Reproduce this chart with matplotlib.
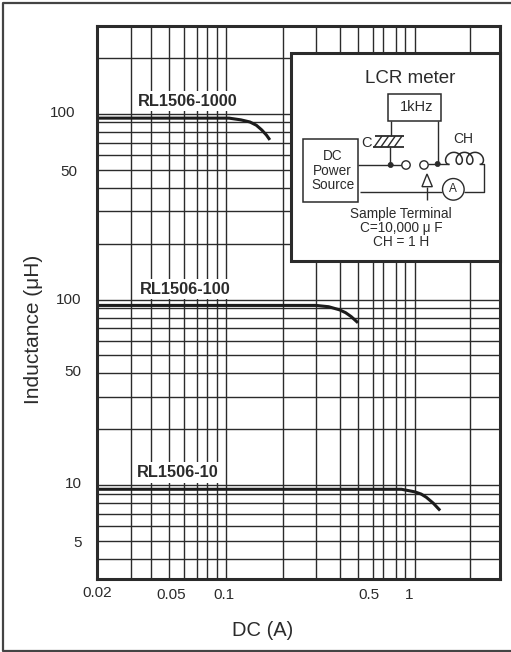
import numpy as np
import matplotlib
matplotlib.use('Agg')
import matplotlib.pyplot as plt
from matplotlib.patches import Rectangle, Circle, Polygon
from matplotlib.ticker import NullLocator

plt.rcParams['font.family'] = ['Liberation Sans', 'DejaVu Sans']

# grid positions
grid_x = [0.0315, 0.04, 0.05, 0.06, 0.07, 0.08, 0.09, 0.1,
          0.2, 0.3, 0.4, 0.5, 0.6, 0.68, 0.79, 0.89, 1.0, 1.95]
grid_y = [2000, 1000, 900, 800, 700, 600, 500, 400, 300, 200,
          100, 90, 80, 70, 60, 50, 40, 30, 20,
          10, 9, 8, 7, 6, 5, 4]

# the three curves share one log axis, each shifted a decade
x_1000 = [0.0207, 0.06, 0.104, 0.12, 0.134, 0.145, 0.155, 0.164, 0.171]
y_1000 = [950, 950, 950, 930, 906, 870, 820, 770, 725]
x_100 = [0.0207, 0.1, 0.3, 0.35, 0.4, 0.43, 0.46, 0.5]
y_100 = [93, 93, 93, 91.5, 88, 85, 81, 75]
x_10 = [0.0207, 0.1, 0.85, 1.0, 1.08, 1.15, 1.25, 1.36]
y_10 = [9.5, 9.5, 9.5, 9.2, 8.95, 8.6, 8.0, 7.3]

xticklabels = ['0.02', '0.05', '0.1', '0.5', '1']
yticklabels = ['100', '50', '100', '50', '10', '5']
names = ['RL1506-1000', 'RL1506-100', 'RL1506-10']

W, H = 511, 652
dark = '#2b2b2b'
fig = plt.figure(figsize=(W / 100, H / 100), dpi=100)

ax = fig.add_axes([96.5 / W, (H - 578.5) / H, 403.5 / W, 552.5 / H])
ax.set_xscale('log')
ax.set_yscale('log')
ax.set_xlim(0.0207, 2.82)
ax.set_ylim(3.14, 2980)
ax.xaxis.set_minor_locator(NullLocator())
ax.yaxis.set_minor_locator(NullLocator())
ax.set_xticks(grid_x)
ax.set_yticks(grid_y)
ax.set_xticklabels([])
ax.set_yticklabels([])
ax.tick_params(length=0)
ax.grid(True, color=dark, lw=1.0)
ax.set_axisbelow(True)
for s in ax.spines.values():
    s.set_linewidth(2.2)
    s.set_color(dark)
    s.set_zorder(6)

for xs, ys in [(x_1000, y_1000), (x_100, y_100), (x_10, y_10)]:
    ax.plot(xs, ys, color='#1c1c1c', lw=2.2, solid_capstyle='butt', zorder=4)

# overlay in pixel coords for the text and the circuit inset
ov = fig.add_axes([0, 0, 1, 1], zorder=5)
ov.set_xlim(0, W)
ov.set_ylim(H, 0)
ov.axis('off')

# outer frame (no right edge in the scan)
ov.plot([511, 3, 3, 511], [3, 3, 651, 651], color='#444444', lw=1.6)

for t, px, py in zip(xticklabels, [97, 171, 224, 369, 409], [593, 595, 595, 595, 595]):
    ov.text(px, py, t, ha='center', va='center', fontsize=11, color=dark)
for t, px, py in zip(yticklabels, [63, 69, 69, 73, 73, 78], [113, 172, 300, 372, 484, 543]):
    ov.text(px, py, t, ha='center', va='center', fontsize=11, color=dark)
ov.text(34, 329, 'Inductance (\u03bcH)', rotation=90, ha='center', va='center', fontsize=15, color=dark)
ov.text(263, 630, 'DC (A)', ha='center', va='center', fontsize=14.5, color=dark)

for t, px, py in zip(names, [188, 185, 177.5], [101, 289, 472.5]):
    ov.text(px, py, t, ha='center', va='center', fontsize=11.8, fontweight='bold', color=dark,
            bbox=dict(fc='white', ec='none', pad=2.0))


def z(x, y):
    # zoomed crop coords of the inset -> image pixels
    return 280 + x / 3, 40 + y / 3


def wire(*pts, lw=1.0):
    p = np.array([z(*q) for q in pts])
    ov.plot(p[:, 0], p[:, 1], color=dark, lw=lw, solid_capstyle='butt', zorder=3)


def box(x0, y0, x1, y1, lw=1.1):
    a, b = z(x0, y0)
    c, d = z(x1, y1)
    ov.add_patch(Rectangle((a, b), c - a, d - b, fc='white', ec=dark, lw=lw, zorder=2))


def label(x, y, t, size=10):
    a, b = z(x, y)
    ov.text(a, b, t, ha='center', va='center', fontsize=size, color=dark, zorder=4)


box(33, 38, 660, 662, lw=2.2)
label(390, 115, 'LCR meter', 13.5)
box(323, 162, 482, 243)
label(410, 202, '1kHz', 10.5)
box(70, 298, 233, 486)
label(158, 349, 'DC', 9.8)
label(158, 393, 'Power', 9.8)
label(158, 436, 'Source', 9.8)

# capacitor
wire((333, 243), (333, 288))
wire((285, 288), (372, 288), lw=1.3)
wire((280, 322), (372, 322), lw=1.3)
for hx in [306, 326, 346, 366]:
    wire((hx - 24, 322), (hx, 288))
wire((330, 322), (330, 375))
label(258, 310, 'C', 10.5)

wire((233, 375), (366, 375))
wire((473, 243), (473, 372))
wire((444, 373), (506, 373))
wire((600, 372), (613, 372), (613, 455), (553, 455))
wire((240, 457), (487, 457))

for cx, cy in [(332, 375), (473, 372)]:
    a, b = z(cx, cy)
    ov.add_patch(Circle((a, b), 2.6, fc=dark, ec=dark, lw=0.5, zorder=4))
for cx, cy in [(378, 375), (432, 375)]:
    a, b = z(cx, cy)
    ov.add_patch(Circle((a, b), 4.2, fc='white', ec=dark, lw=1.0, zorder=4))
a, b = z(520, 448)
ov.add_patch(Circle((a, b), 10.8, fc='white', ec=dark, lw=1.0, zorder=4))
ov.text(a, b, 'A', ha='center', va='center', fontsize=8.5, color=dark, zorder=5)

# inductor
t = np.linspace(0, 6 * np.pi, 200)
cx0, cy0 = z(506, 373)
ov.plot(cx0 + 1.68 * t - 5.5 * np.sin(t), cy0 - 6 * (1 - np.cos(t)), color=dark, lw=1.1, zorder=3)
label(550, 298, 'CH', 10)

# sample terminal arrow
wire((441, 440), (441, 480))
tri = [z(441, 402), z(426, 440), z(457, 440)]
ov.add_patch(Polygon(tri, closed=True, fc='white', ec=dark, lw=1.0, zorder=3))

label(363, 522, 'Sample Terminal', 9.8)
label(363, 565, 'C=10,000 \u03bc F', 9.8)
label(363, 606, 'CH = 1 H', 9.8)

fig.savefig('out.png', dpi=100)
